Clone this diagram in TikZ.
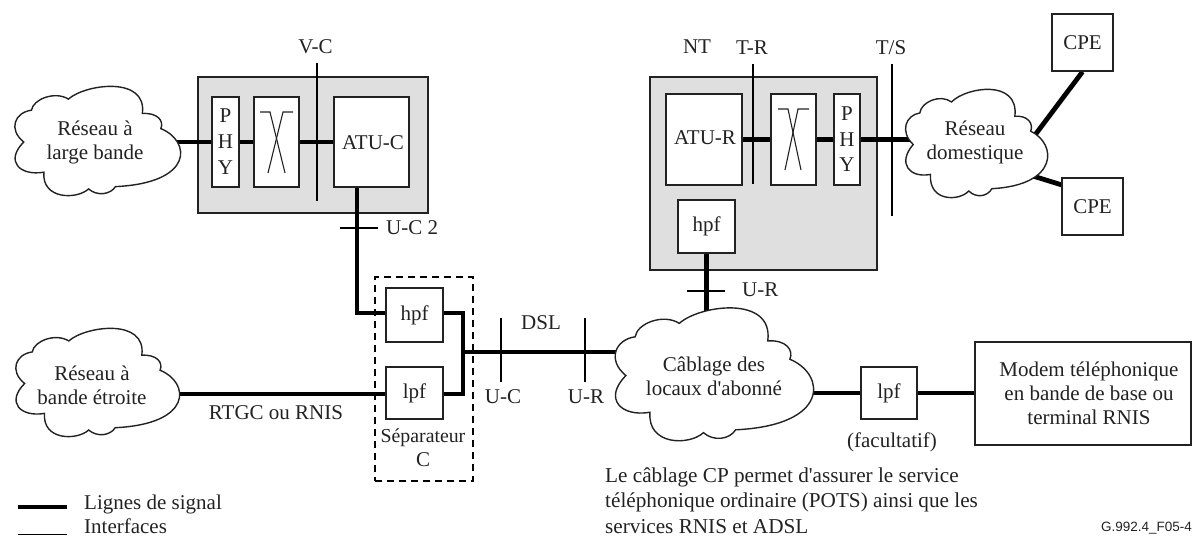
\documentclass[tikz,border=0pt]{standalone}
\usepackage{fontspec}
\setmainfont{Liberation Serif}
\newfontfamily\gsans{Liberation Sans}
\pgfdeclarelayer{greylayer}
\pgfdeclarelayer{wirelayer}
\pgfsetlayers{greylayer,wirelayer,main}
\definecolor{greyfill}{HTML}{DFDFDF}
\definecolor{inkc}{HTML}{222222}
\tikzset{
  x=1pt,y=-1pt,
  every node/.style={font=\fontsize{21}{24}\selectfont,text=inkc,inner sep=0pt,align=center},
  blockbox/.style={draw=inkc,line width=1.5pt,fill=white},
  greybox/.style={draw=inkc,line width=1.5pt,fill=greyfill},
  sigline/.style={draw=black,line width=4.8pt},
  ifline/.style={draw=black,line width=1.9pt},
  thinx/.style={draw=inkc,line width=1.1pt},
  cloudline/.style={draw=inkc,line width=1.4pt,fill=white},
}
% #1 left, #2 top, #3 width, #4 height
\newcommand{\cloudshape}[4]{%
  \begin{scope}[shift={(#1,#2)},xscale=#3/500,yscale=#4/331]
    \path[cloudline] (32,173)
      .. controls (-15,135) and (5,85) .. (55,78)
      .. controls (60,45) and (125,20) .. (165,45)
      .. controls (215,0) and (400,-25) .. (385,88)
      .. controls (430,85) and (450,110) .. (440,133)
      .. controls (530,170) and (540,295) .. (305,306)
      .. controls (290,330) and (250,335) .. (225,313)
      .. controls (190,345) and (85,345) .. (92,263)
      .. controls (20,275) and (-25,230) .. (32,173) -- cycle;
  \end{scope}}
\begin{document}
\begin{tikzpicture}
\useasboundingbox (0,0) rectangle (1192,536);
% clouds
\cloudshape{13}{84}{168}{111}
\cloudshape{14}{326}{166}{110}
\cloudshape{904}{87}{144}{110}
\cloudshape{613}{305}{201}{135}
\node (cloudwide) at (95,142) {Réseau à\\large bande};
\node (cloudnarrow) at (92,385.5) {Réseau à\\bande étroite};
\node (cloudhome) at (975,142.5) {Réseau\\domestique};
\node (cloudcp) at (714,376.5) {Câblage des\\locaux d\textquotesingle abonné};
% grey housings
\begin{pgfonlayer}{greylayer}
  \node[greybox,minimum width=230pt,minimum height=136pt] (housel) at (313,145) {};
  \node[greybox,minimum width=227pt,minimum height=193pt] (houser) at (763.5,173.5) {};
\end{pgfonlayer}
% left unit
\node[blockbox,minimum width=27pt,minimum height=90pt,font=\fontsize{21}{26}\selectfont] (phyl) at (225.5,142) {P\\H\\Y};
\node[blockbox,minimum width=45pt,minimum height=90pt] (xl) at (276.5,142) {};
\node[blockbox,minimum width=75pt,minimum height=90pt] (atuc) at (371.5,142) {};
\node at (373,143) (atuctxt) {ATU-C};
\draw[thinx] (260,112) -- (270,112) -- (285,173);
\draw[thinx] (293,112) -- (283,112) -- (268,173);
% right unit
\node[blockbox,minimum width=76pt,minimum height=91pt] (atur) at (704,139.5) {};
\node at (705,138) (aturtxt) {ATU-R};
\node[blockbox,minimum width=45pt,minimum height=91pt] (xr) at (793.5,139.5) {};
\node[blockbox,minimum width=26pt,minimum height=91pt,font=\fontsize{21}{25.5}\selectfont] (phyr) at (847,139.5) {P\\H\\Y};
\node[blockbox,minimum width=57pt,minimum height=53pt] (hpfr) at (706.5,226.5) {hpf};
\draw[thinx] (778,109) -- (788,109) -- (801,170);
\draw[thinx] (809,109) -- (798,109) -- (785,170);
% CPE
\node[blockbox,minimum width=61pt,minimum height=57pt] (cpea) at (1082.5,42.5) {CPE};
\node[blockbox,minimum width=61pt,minimum height=57pt] (cpeb) at (1092.5,206.5) {CPE};
% splitter
\node[blockbox,minimum width=57pt,minimum height=54pt] (hpfc) at (414.5,315) {hpf};
\node[blockbox,minimum width=57pt,minimum height=52pt] (lpfc) at (414.5,393) {lpf};
\node[draw=black,line width=1.5pt,dash pattern=on 7pt off 5pt,minimum width=98pt,minimum height=204pt] (splitter) at (424,379) {};
\node (splittxt) at (423,448) {\fontsize{19.8}{24}\selectfont Séparateur\\C};
% lpf and modem
\node[blockbox,minimum width=56pt,minimum height=52pt] (lpfr) at (889,393) {lpf};
\node[blockbox,minimum width=216pt,minimum height=103pt] (modem) at (1083,393.5) {};
\node (modemtxt) at (1089,393.5) {\fontsize{21}{24.5}\selectfont Modem téléphonique\\en bande de base ou\\terminal RNIS};
% junctions and free ends
\coordinate (jcorner) at (357,313);
\coordinate (bartopp) at (463,313);
\coordinate (barbot) at (463,394);
\coordinate (barmid) at (463,352);
\coordinate (homea) at (1020,155);
\coordinate (homeb) at (1020,172);
\coordinate (cpebw) at (1062,185);
% signal lines
\begin{pgfonlayer}{wirelayer}
  \draw[sigline] (cloudwide.center |- phyl.west) -- (phyl.west);
  \draw[sigline] (phyl.east) -- (xl.west);
  \draw[sigline] (xl.east) -- (atuc.west);
  \draw[sigline,line join=miter] (atuc.south -| jcorner) -- (jcorner) -- (jcorner -| hpfc.west);
  \draw[sigline,line join=miter] (hpfc.east |- bartopp) -- (bartopp) -- (barbot) -- (barbot -| lpfc.east);
  \draw[sigline] (cloudnarrow.center |- barbot) -- (barbot -| lpfc.west);
  \draw[sigline] (barmid) -- (barmid -| cloudcp.center);
  \draw[sigline] (atur.east) -- (xr.west);
  \draw[sigline] (xr.east) -- (phyr.west);
  \draw[sigline] (phyr.east) -- (phyr.east -| cloudhome.center);
  \draw[sigline] (hpfr.south) -- (hpfr.south |- cloudcp.center);
  \draw[sigline] (cloudcp.center |- lpfr.west) -- (lpfr.west);
  \draw[sigline] (lpfr.east) -- (lpfr.east -| modem.west);
  \draw[sigline] (homea) -- (cpea.south);
  \draw[sigline] (homeb) -- (cpebw);
\end{pgfonlayer}
% interface marks
\coordinate (vca) at (317,63); \coordinate (vcb) at (317,201);
\coordinate (tra) at (753,64); \coordinate (trb) at (753,184);
\coordinate (tsa) at (892,64); \coordinate (tsb) at (892,216);
\coordinate (uc2a) at (340,228); \coordinate (uc2b) at (378,228);
\coordinate (ura) at (687,291); \coordinate (urb) at (725,291);
\coordinate (uca) at (501,318); \coordinate (ucb) at (501,382);
\coordinate (urc) at (585,318); \coordinate (urd) at (585,382);
\draw[ifline] (vca) -- (vcb);
\draw[ifline] (tra) -- (trb);
\draw[ifline] (tsa) -- (tsb);
\draw[ifline] (uc2a) -- (uc2b);
\draw[ifline] (ura) -- (urb);
\draw[ifline] (uca) -- (ucb);
\draw[ifline] (urc) -- (urd);
% labels
\node (lvc) at (315.5,47) {V-C};
\node (lnt) at (697,47) {NT};
\node (ltr) at (752,48) {T-R};
\node (lts) at (891,48) {T/S};
\node[anchor=west] (luc2) at (386,228) {U-C 2};
\node[anchor=west] (lur) at (742,290) {U-R};
\node (ldsl) at (541,323) {DSL};
\node (luc) at (503,397) {U-C};
\node (lur2) at (586,397) {U-R};
\node (lrtgc) at (276,413) {RTGC ou RNIS};
\node (lfac) at (892,442) {(facultatif)};
\node[anchor=south west,align=left,font=\fontsize{21.2}{25.5}\selectfont] (lnote) at (605,533.5) {Le câblage CP permet d\textquotesingle assurer le service\\téléphonique ordinaire (POTS) ainsi que les\\services RNIS et ADSL};
\node[anchor=east,font=\gsans\fontsize{13.5}{16}\selectfont] (lref) at (1192,528) {G.992.4\_F05-4};
% legend
\coordinate (lega) at (18,507); \coordinate (legb) at (67,507);
\coordinate (legc) at (18,534.5); \coordinate (legd) at (67,534.5);
\draw[sigline] (lega) -- (legb);
\draw[ifline] (legc) -- (legd);
\node[anchor=west] (lleg1) at (84,504) {Lignes de signal};
\node[anchor=south west] (lleg2) at (84,533.5) {Interfaces};
\end{tikzpicture}
\end{document}
